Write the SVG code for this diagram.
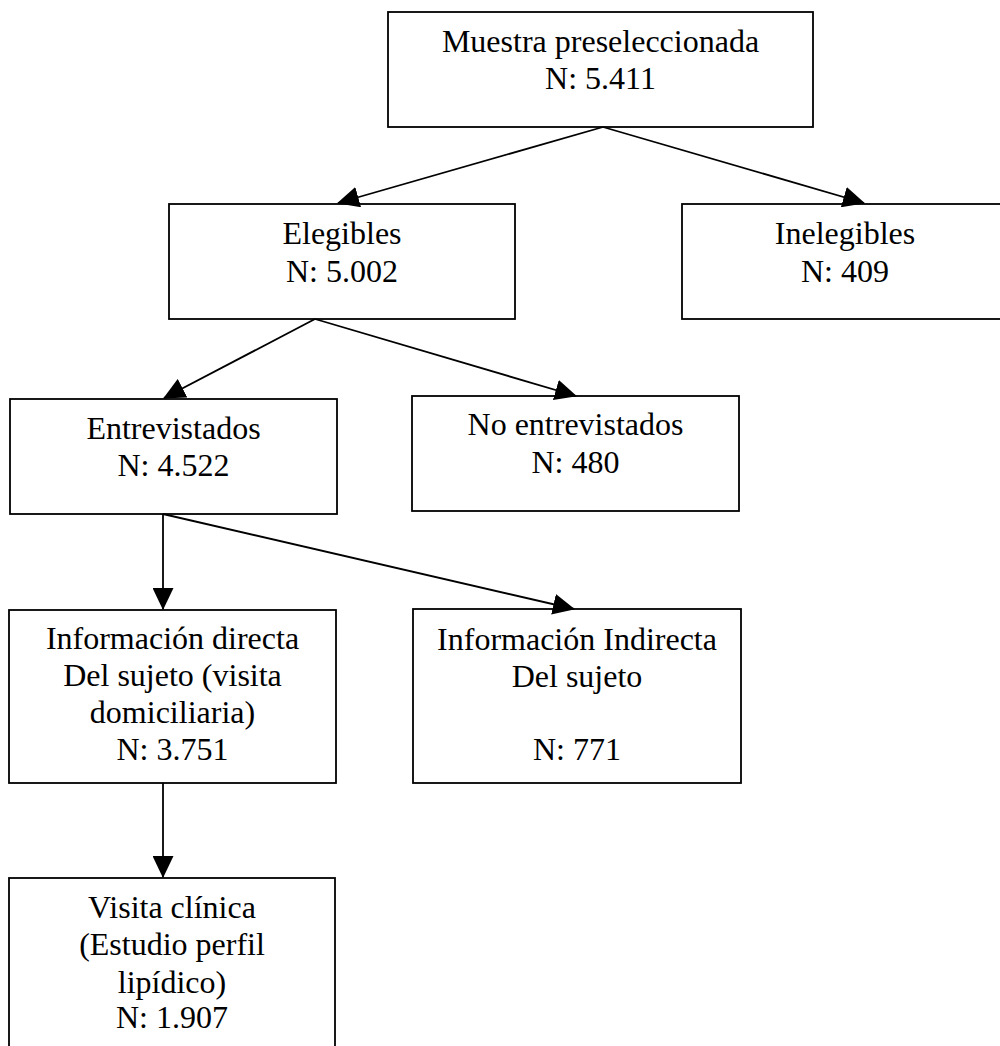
<svg xmlns="http://www.w3.org/2000/svg" width="1000" height="1046" viewBox="0 0 1000 1046">
<style>
.box{fill:#fff;stroke:#000;stroke-width:1.8}
.t{font-family:"Liberation Serif","Times New Roman",serif;font-size:32px;fill:#000;text-anchor:middle}
.c{fill:none;stroke:#000;stroke-width:1.8;marker-end:url(#ah)}
</style>
<defs>
<marker id="ah" markerUnits="userSpaceOnUse" markerWidth="22" markerHeight="21" viewBox="0 0 22 21" refX="21" refY="10.5" orient="auto">
<path d="M0,0 L22,10.5 L0,21 z" fill="#000"/>
</marker>
</defs>
<rect width="1000" height="1046" fill="#fff"/>
<g id="n1"><rect class="box" x="388" y="12" width="425" height="115"/>
<text class="t" x="600.5" y="52">Muestra preseleccionada</text>
<text class="t" x="600.5" y="89">N: 5.411</text></g>
<g id="n2"><rect class="box" x="169" y="204" width="346" height="115"/>
<text class="t" x="342" y="244">Elegibles</text>
<text class="t" x="342" y="282">N: 5.002</text></g>
<g id="n3"><rect class="box" x="682" y="204" width="326" height="115"/>
<text class="t" x="845" y="244">Inelegibles</text>
<text class="t" x="845" y="282">N: 409</text></g>
<g id="n4"><rect class="box" x="10" y="399" width="327" height="115"/>
<text class="t" x="173.5" y="439">Entrevistados</text>
<text class="t" x="173.5" y="476">N: 4.522</text></g>
<g id="n5"><rect class="box" x="412" y="396" width="327" height="115"/>
<text class="t" x="575.5" y="435">No entrevistados</text>
<text class="t" x="575.5" y="473">N: 480</text></g>
<g id="n6"><rect class="box" x="9" y="610" width="327" height="173"/>
<text class="t" x="172.5" y="649">Información directa</text>
<text class="t" x="172.5" y="686">Del sujeto (visita</text>
<text class="t" x="172.5" y="723">domiciliaria)</text>
<text class="t" x="172.5" y="760">N: 3.751</text></g>
<g id="n7"><rect class="box" x="413" y="609" width="328" height="174"/>
<text class="t" x="577" y="650">Información Indirecta</text>
<text class="t" x="577" y="687">Del sujeto</text>
<text class="t" x="577" y="760">N: 771</text></g>
<g id="n8"><rect class="box" x="9" y="878" width="326" height="200"/>
<text class="t" x="172" y="918">Visita clínica</text>
<text class="t" x="172" y="955">(Estudio perfil</text>
<text class="t" x="172" y="993">lipídico)</text>
<text class="t" x="172" y="1028">N: 1.907</text></g>
<g id="connectors">
<line class="c" x1="603" y1="127" x2="338" y2="203"/>
<line class="c" x1="603" y1="127" x2="864" y2="203"/>
<line class="c" x1="315" y1="319" x2="164" y2="398"/>
<line class="c" x1="315" y1="319" x2="576" y2="396"/>
<line class="c" x1="163" y1="514" x2="163" y2="609"/>
<line class="c" x1="163" y1="514" x2="574" y2="609"/>
<line class="c" x1="163" y1="783" x2="163" y2="877"/>
</g>
</svg>
